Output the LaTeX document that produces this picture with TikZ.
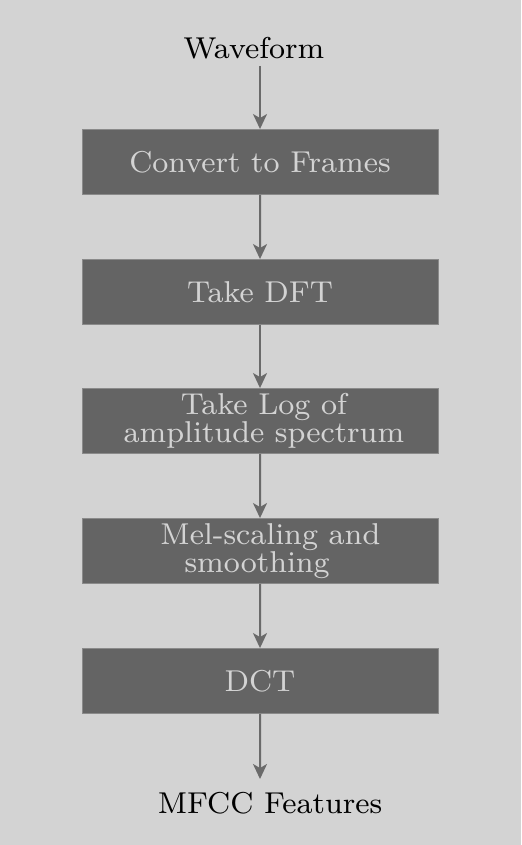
\documentclass[tikz,border=0pt]{standalone}
\usetikzlibrary{arrows.meta}
\definecolor{bgc}{HTML}{D3D3D3}
\definecolor{boxc}{HTML}{646464}
\definecolor{boxline}{HTML}{8A8A8A}
\definecolor{arrc}{HTML}{6A6A6A}
\tikzset{
  stepbox/.style={scale=1.885, fill=boxc, draw=boxline, line width=0.5pt, minimum width=94.43pt, minimum height=16.98pt, inner sep=0pt, text=bgc, align=center, font=\fontsize{8}{7.3}\selectfont},
  plain/.style={scale=1.885, inner sep=0.5pt, text=black, font=\fontsize{8}{7.3}\selectfont},
  flow/.style={draw=arrc, line width=1pt, -{Stealth[length=7.5pt, width=7pt, inset=2pt]}}
}
\begin{document}
\begin{tikzpicture}[x=0.5pt, y=-0.5pt]
\fill[bgc] (0,0) rectangle (521,845);
\useasboundingbox (0,0) rectangle (521,845);
\node[plain] (wave) at (254,48) {Waveform};
\node[stepbox] (b1) at (260,162) {Convert to Frames};
\node[stepbox] (b2) at (260,292) {Take DFT};
\node[stepbox] (b3) at (260,421) {\hspace*{2.1pt}Take Log of\\ \hspace*{2.1pt}amplitude spectrum};
\node[stepbox] (b4) at (260,551) {\hspace*{5.5pt}Mel-scaling and\\ smoothing\hspace*{1.5pt}};
\node[stepbox] (b5) at (260,681) {DCT};
\node[plain] (mfcc) at (270,803) {MFCC Features};
\coordinate (ws) at (260,66);
\coordinate (me) at (260,779);
\draw[flow] (ws) -- (b1.north);
\draw[flow] (b1) -- (b2);
\draw[flow] (b2) -- (b3);
\draw[flow] (b3) -- (b4);
\draw[flow] (b4) -- (b5);
\draw[flow] (b5) -- (me);
\end{tikzpicture}
\end{document}
